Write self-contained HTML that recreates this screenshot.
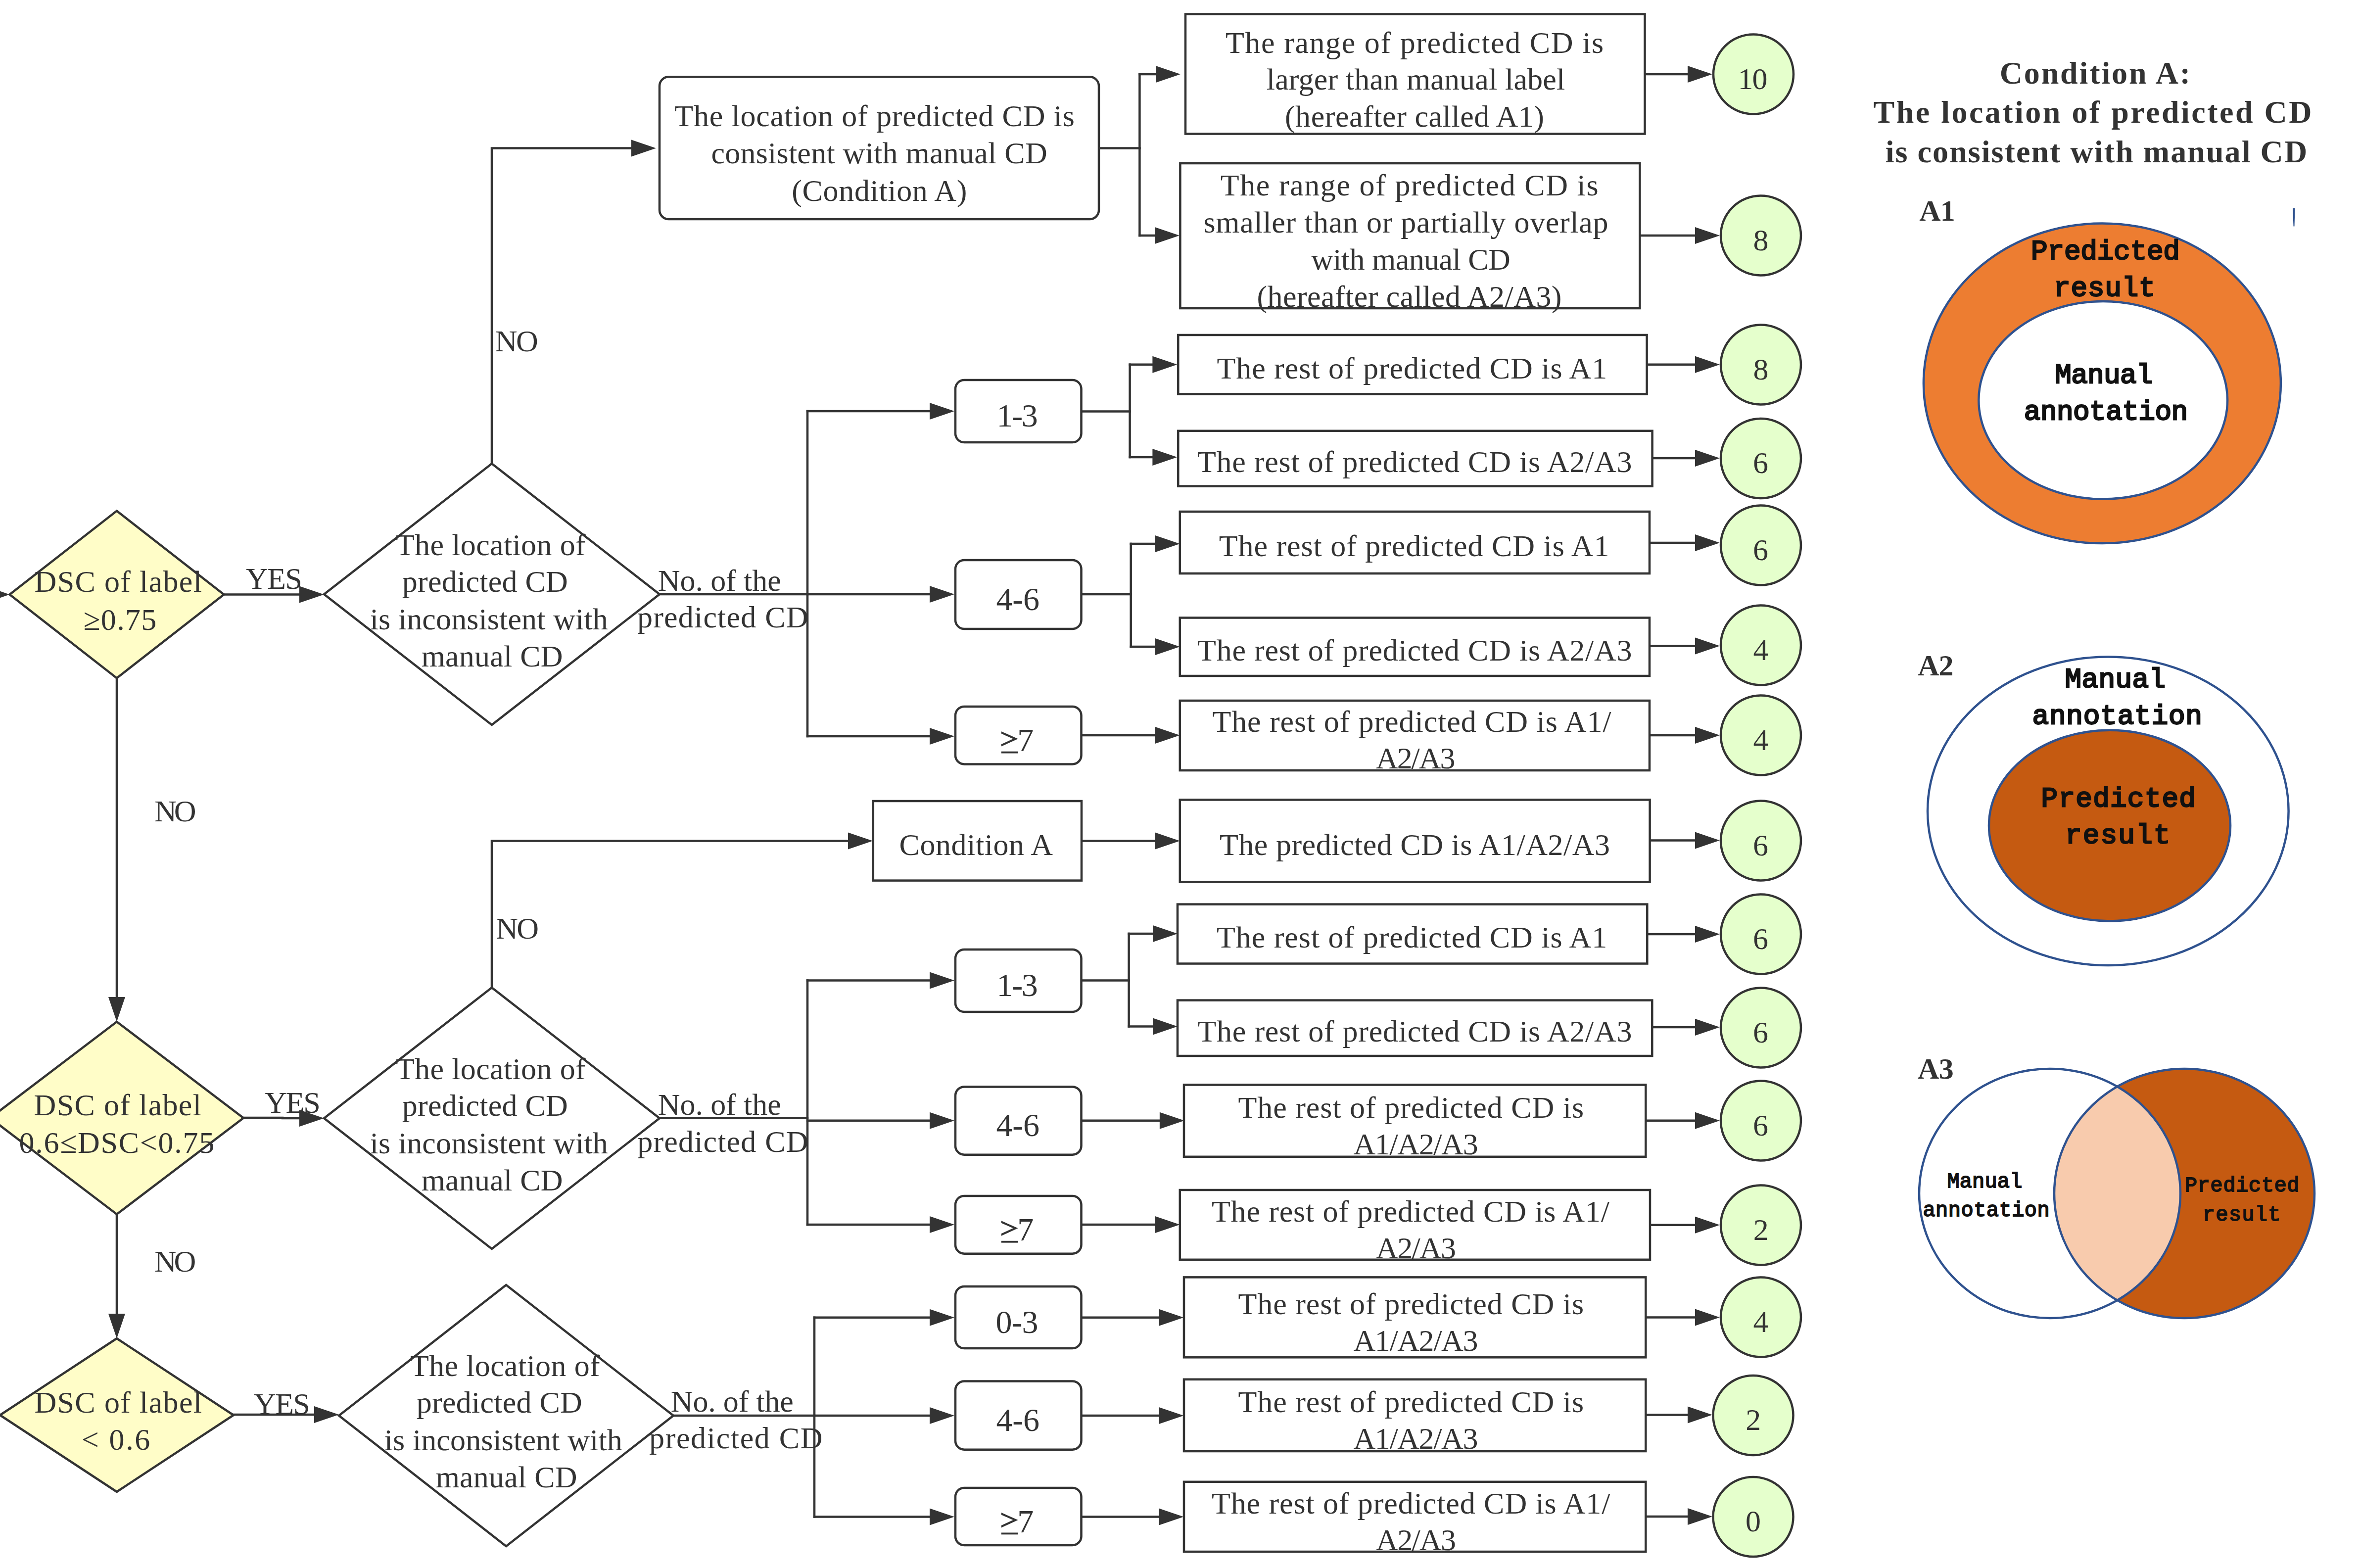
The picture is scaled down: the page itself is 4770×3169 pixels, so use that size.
<!DOCTYPE html>
<html><head><meta charset="utf-8"><style>
html,body{margin:0;padding:0;background:#fff;width:4770px;height:3169px;overflow:hidden}
svg{display:block}
</style></head><body>
<svg width="4770" height="3169" viewBox="0 0 4770 3169">
<rect width="4770" height="3169" fill="#ffffff"/>
<polygon points="236.0,1032.5 452.5,1201.5 236.0,1370.5 19.5,1201.5" fill="#fffdc8" stroke="#333333" stroke-width="4.5"/>
<polygon points="236.0,2065.0 492.0,2259.5 236.0,2454.0 -20.0,2259.5" fill="#fffdc8" stroke="#333333" stroke-width="4.5"/>
<polygon points="236.0,2705.0 472.0,2860.0 236.0,3015.0 0.0,2860.0" fill="#fffdc8" stroke="#333333" stroke-width="4.5"/>
<polygon points="994.0,937.0 1333.0,1201.0 994.0,1465.0 655.0,1201.0" fill="#ffffff" stroke="#333333" stroke-width="4.5"/>
<polygon points="994.0,1996.0 1333.0,2260.0 994.0,2524.0 655.0,2260.0" fill="#ffffff" stroke="#333333" stroke-width="4.5"/>
<polygon points="1023.0,2597.0 1361.0,2861.0 1023.0,3125.0 685.0,2861.0" fill="#ffffff" stroke="#333333" stroke-width="4.5"/>
<polygon points="19.5,1201.5 -30.5,1184.5 -30.5,1218.5" fill="#333333"/>
<polyline points="452.5,1201.5 610.0,1201.5" fill="none" stroke="#333333" stroke-width="4.5" stroke-linejoin="miter" stroke-linecap="square"/>
<polygon points="655.0,1201.5 605.0,1184.5 605.0,1218.5" fill="#333333"/>
<polyline points="236.0,1370.0 236.0,2020.0" fill="none" stroke="#333333" stroke-width="4.5" stroke-linejoin="miter" stroke-linecap="square"/>
<polygon points="236.0,2065.0 219.0,2015.0 253.0,2015.0" fill="#333333"/>
<polyline points="492.0,2259.0 571.0,2259.0 571.0,2260.0 610.0,2260.0" fill="none" stroke="#333333" stroke-width="4.5" stroke-linejoin="miter" stroke-linecap="square"/>
<polygon points="655.0,2260.0 605.0,2243.0 605.0,2277.0" fill="#333333"/>
<polyline points="236.0,2454.6 236.0,2660.0" fill="none" stroke="#333333" stroke-width="4.5" stroke-linejoin="miter" stroke-linecap="square"/>
<polygon points="236.0,2705.0 219.0,2655.0 253.0,2655.0" fill="#333333"/>
<polyline points="472.0,2859.0 640.0,2859.0" fill="none" stroke="#333333" stroke-width="4.5" stroke-linejoin="miter" stroke-linecap="square"/>
<polygon points="685.0,2859.0 635.0,2842.0 635.0,2876.0" fill="#333333"/>
<polyline points="994.0,937.0 994.0,299.5 1281.0,299.5" fill="none" stroke="#333333" stroke-width="4.5" stroke-linejoin="miter" stroke-linecap="square"/>
<polygon points="1326.0,299.5 1276.0,282.5 1276.0,316.5" fill="#333333"/>
<polyline points="1331.6,1201.0 1632.0,1201.0" fill="none" stroke="#333333" stroke-width="4.5" stroke-linejoin="miter" stroke-linecap="square"/>
<polyline points="1632.0,831.0 1632.0,1488.0" fill="none" stroke="#333333" stroke-width="4.5" stroke-linejoin="miter" stroke-linecap="square"/>
<polyline points="1632.0,831.0 1884.0,831.0" fill="none" stroke="#333333" stroke-width="4.5" stroke-linejoin="miter" stroke-linecap="square"/>
<polygon points="1929.0,831.0 1879.0,814.0 1879.0,848.0" fill="#333333"/>
<polyline points="1632.0,1201.0 1884.0,1201.0" fill="none" stroke="#333333" stroke-width="4.5" stroke-linejoin="miter" stroke-linecap="square"/>
<polygon points="1929.0,1201.0 1879.0,1184.0 1879.0,1218.0" fill="#333333"/>
<polyline points="1632.0,1488.0 1884.0,1488.0" fill="none" stroke="#333333" stroke-width="4.5" stroke-linejoin="miter" stroke-linecap="square"/>
<polygon points="1929.0,1488.0 1879.0,1471.0 1879.0,1505.0" fill="#333333"/>
<polyline points="2221.0,299.5 2303.4,299.5" fill="none" stroke="#333333" stroke-width="4.5" stroke-linejoin="miter" stroke-linecap="square"/>
<polyline points="2303.4,149.9 2303.4,476.0" fill="none" stroke="#333333" stroke-width="4.5" stroke-linejoin="miter" stroke-linecap="square"/>
<polyline points="2303.4,149.9 2341.0,149.9" fill="none" stroke="#333333" stroke-width="4.5" stroke-linejoin="miter" stroke-linecap="square"/>
<polygon points="2386.0,149.9 2336.0,132.9 2336.0,166.9" fill="#333333"/>
<polyline points="2303.4,476.0 2339.0,476.0" fill="none" stroke="#333333" stroke-width="4.5" stroke-linejoin="miter" stroke-linecap="square"/>
<polygon points="2384.0,476.0 2334.0,459.0 2334.0,493.0" fill="#333333"/>
<polyline points="3324.5,150.0 3416.0,150.0" fill="none" stroke="#333333" stroke-width="4.5" stroke-linejoin="miter" stroke-linecap="square"/>
<polygon points="3461.0,150.0 3411.0,133.0 3411.0,167.0" fill="#333333"/>
<polyline points="3314.4,476.0 3431.0,476.0" fill="none" stroke="#333333" stroke-width="4.5" stroke-linejoin="miter" stroke-linecap="square"/>
<polygon points="3476.0,476.0 3426.0,459.0 3426.0,493.0" fill="#333333"/>
<polyline points="2187.0,831.5 2283.6,831.5" fill="none" stroke="#333333" stroke-width="4.5" stroke-linejoin="miter" stroke-linecap="square"/>
<polyline points="2283.6,736.8 2283.6,923.9" fill="none" stroke="#333333" stroke-width="4.5" stroke-linejoin="miter" stroke-linecap="square"/>
<polyline points="2283.6,736.8 2334.4,736.8" fill="none" stroke="#333333" stroke-width="4.5" stroke-linejoin="miter" stroke-linecap="square"/>
<polygon points="2379.4,736.8 2329.4,719.8 2329.4,753.8" fill="#333333"/>
<polyline points="2283.6,923.9 2334.4,923.9" fill="none" stroke="#333333" stroke-width="4.5" stroke-linejoin="miter" stroke-linecap="square"/>
<polygon points="2379.4,923.9 2329.4,906.9 2329.4,940.9" fill="#333333"/>
<polyline points="3328.6,736.8 3431.0,736.8" fill="none" stroke="#333333" stroke-width="4.5" stroke-linejoin="miter" stroke-linecap="square"/>
<polygon points="3476.0,736.8 3426.0,719.8 3426.0,753.8" fill="#333333"/>
<polyline points="3339.6,926.0 3431.0,926.0" fill="none" stroke="#333333" stroke-width="4.5" stroke-linejoin="miter" stroke-linecap="square"/>
<polygon points="3476.0,926.0 3426.0,909.0 3426.0,943.0" fill="#333333"/>
<polyline points="2187.0,1201.0 2285.7,1201.0" fill="none" stroke="#333333" stroke-width="4.5" stroke-linejoin="miter" stroke-linecap="square"/>
<polyline points="2285.7,1099.0 2285.7,1307.0" fill="none" stroke="#333333" stroke-width="4.5" stroke-linejoin="miter" stroke-linecap="square"/>
<polyline points="2285.7,1099.0 2339.7,1099.0" fill="none" stroke="#333333" stroke-width="4.5" stroke-linejoin="miter" stroke-linecap="square"/>
<polygon points="2384.7,1099.0 2334.7,1082.0 2334.7,1116.0" fill="#333333"/>
<polyline points="2285.7,1307.0 2339.7,1307.0" fill="none" stroke="#333333" stroke-width="4.5" stroke-linejoin="miter" stroke-linecap="square"/>
<polygon points="2384.7,1307.0 2334.7,1290.0 2334.7,1324.0" fill="#333333"/>
<polyline points="3334.0,1097.0 3431.0,1097.0" fill="none" stroke="#333333" stroke-width="4.5" stroke-linejoin="miter" stroke-linecap="square"/>
<polygon points="3476.0,1097.0 3426.0,1080.0 3426.0,1114.0" fill="#333333"/>
<polyline points="3334.0,1305.5 3431.0,1305.5" fill="none" stroke="#333333" stroke-width="4.5" stroke-linejoin="miter" stroke-linecap="square"/>
<polygon points="3476.0,1305.5 3426.0,1288.5 3426.0,1322.5" fill="#333333"/>
<polyline points="2187.0,1486.0 2339.7,1486.0" fill="none" stroke="#333333" stroke-width="4.5" stroke-linejoin="miter" stroke-linecap="square"/>
<polygon points="2384.7,1486.0 2334.7,1469.0 2334.7,1503.0" fill="#333333"/>
<polyline points="3334.0,1486.0 3431.0,1486.0" fill="none" stroke="#333333" stroke-width="4.5" stroke-linejoin="miter" stroke-linecap="square"/>
<polygon points="3476.0,1486.0 3426.0,1469.0 3426.0,1503.0" fill="#333333"/>
<polyline points="994.0,1997.0 994.0,1699.5 1719.0,1699.5" fill="none" stroke="#333333" stroke-width="4.5" stroke-linejoin="miter" stroke-linecap="square"/>
<polygon points="1764.0,1699.5 1714.0,1682.5 1714.0,1716.5" fill="#333333"/>
<polyline points="2186.0,1699.5 2339.7,1699.5" fill="none" stroke="#333333" stroke-width="4.5" stroke-linejoin="miter" stroke-linecap="square"/>
<polygon points="2384.7,1699.5 2334.7,1682.5 2334.7,1716.5" fill="#333333"/>
<polyline points="3334.6,1698.5 3431.0,1698.5" fill="none" stroke="#333333" stroke-width="4.5" stroke-linejoin="miter" stroke-linecap="square"/>
<polygon points="3476.0,1698.5 3426.0,1681.5 3426.0,1715.5" fill="#333333"/>
<polyline points="1331.6,2259.7 1632.0,2259.7" fill="none" stroke="#333333" stroke-width="4.5" stroke-linejoin="miter" stroke-linecap="square"/>
<polyline points="1632.0,1981.6 1632.0,2475.0" fill="none" stroke="#333333" stroke-width="4.5" stroke-linejoin="miter" stroke-linecap="square"/>
<polyline points="1632.0,1981.6 1884.0,1981.6" fill="none" stroke="#333333" stroke-width="4.5" stroke-linejoin="miter" stroke-linecap="square"/>
<polygon points="1929.0,1981.6 1879.0,1964.6 1879.0,1998.6" fill="#333333"/>
<polyline points="1632.0,2264.8 1884.0,2264.8" fill="none" stroke="#333333" stroke-width="4.5" stroke-linejoin="miter" stroke-linecap="square"/>
<polygon points="1929.0,2264.8 1879.0,2247.8 1879.0,2281.8" fill="#333333"/>
<polyline points="1632.0,2475.0 1884.0,2475.0" fill="none" stroke="#333333" stroke-width="4.5" stroke-linejoin="miter" stroke-linecap="square"/>
<polygon points="1929.0,2475.0 1879.0,2458.0 1879.0,2492.0" fill="#333333"/>
<polyline points="2187.0,1981.6 2281.6,1981.6" fill="none" stroke="#333333" stroke-width="4.5" stroke-linejoin="miter" stroke-linecap="square"/>
<polyline points="2281.6,1887.0 2281.6,2074.5" fill="none" stroke="#333333" stroke-width="4.5" stroke-linejoin="miter" stroke-linecap="square"/>
<polyline points="2281.6,1887.0 2335.0,1887.0" fill="none" stroke="#333333" stroke-width="4.5" stroke-linejoin="miter" stroke-linecap="square"/>
<polygon points="2380.0,1887.0 2330.0,1870.0 2330.0,1904.0" fill="#333333"/>
<polyline points="2281.6,2074.5 2335.0,2074.5" fill="none" stroke="#333333" stroke-width="4.5" stroke-linejoin="miter" stroke-linecap="square"/>
<polygon points="2380.0,2074.5 2330.0,2057.5 2330.0,2091.5" fill="#333333"/>
<polyline points="3329.3,1888.0 3431.0,1888.0" fill="none" stroke="#333333" stroke-width="4.5" stroke-linejoin="miter" stroke-linecap="square"/>
<polygon points="3476.0,1888.0 3426.0,1871.0 3426.0,1905.0" fill="#333333"/>
<polyline points="3339.3,2076.0 3431.0,2076.0" fill="none" stroke="#333333" stroke-width="4.5" stroke-linejoin="miter" stroke-linecap="square"/>
<polygon points="3476.0,2076.0 3426.0,2059.0 3426.0,2093.0" fill="#333333"/>
<polyline points="2187.0,2264.8 2348.9,2264.8" fill="none" stroke="#333333" stroke-width="4.5" stroke-linejoin="miter" stroke-linecap="square"/>
<polygon points="2393.9,2264.8 2343.9,2247.8 2343.9,2281.8" fill="#333333"/>
<polyline points="3326.3,2264.8 3431.0,2264.8" fill="none" stroke="#333333" stroke-width="4.5" stroke-linejoin="miter" stroke-linecap="square"/>
<polygon points="3476.0,2264.8 3426.0,2247.8 3426.0,2281.8" fill="#333333"/>
<polyline points="2187.0,2475.0 2339.7,2475.0" fill="none" stroke="#333333" stroke-width="4.5" stroke-linejoin="miter" stroke-linecap="square"/>
<polygon points="2384.7,2475.0 2334.7,2458.0 2334.7,2492.0" fill="#333333"/>
<polyline points="3335.0,2475.8 3431.0,2475.8" fill="none" stroke="#333333" stroke-width="4.5" stroke-linejoin="miter" stroke-linecap="square"/>
<polygon points="3476.0,2475.8 3426.0,2458.8 3426.0,2492.8" fill="#333333"/>
<polyline points="1361.7,2861.0 1646.0,2861.0" fill="none" stroke="#333333" stroke-width="4.5" stroke-linejoin="miter" stroke-linecap="square"/>
<polyline points="1646.0,2662.7 1646.0,3065.4" fill="none" stroke="#333333" stroke-width="4.5" stroke-linejoin="miter" stroke-linecap="square"/>
<polyline points="1646.0,2662.7 1884.0,2662.7" fill="none" stroke="#333333" stroke-width="4.5" stroke-linejoin="miter" stroke-linecap="square"/>
<polygon points="1929.0,2662.7 1879.0,2645.7 1879.0,2679.7" fill="#333333"/>
<polyline points="1646.0,2861.0 1884.0,2861.0" fill="none" stroke="#333333" stroke-width="4.5" stroke-linejoin="miter" stroke-linecap="square"/>
<polygon points="1929.0,2861.0 1879.0,2844.0 1879.0,2878.0" fill="#333333"/>
<polyline points="1646.0,3065.4 1884.0,3065.4" fill="none" stroke="#333333" stroke-width="4.5" stroke-linejoin="miter" stroke-linecap="square"/>
<polygon points="1929.0,3065.4 1879.0,3048.4 1879.0,3082.4" fill="#333333"/>
<polyline points="2186.4,2662.7 2347.4,2662.7" fill="none" stroke="#333333" stroke-width="4.5" stroke-linejoin="miter" stroke-linecap="square"/>
<polygon points="2392.4,2662.7 2342.4,2645.7 2342.4,2679.7" fill="#333333"/>
<polyline points="2186.4,2861.0 2347.4,2861.0" fill="none" stroke="#333333" stroke-width="4.5" stroke-linejoin="miter" stroke-linecap="square"/>
<polygon points="2392.4,2861.0 2342.4,2844.0 2342.4,2878.0" fill="#333333"/>
<polyline points="2186.4,3065.4 2347.4,3065.4" fill="none" stroke="#333333" stroke-width="4.5" stroke-linejoin="miter" stroke-linecap="square"/>
<polygon points="2392.4,3065.4 2342.4,3048.4 2342.4,3082.4" fill="#333333"/>
<polyline points="3326.3,2662.6 3431.0,2662.6" fill="none" stroke="#333333" stroke-width="4.5" stroke-linejoin="miter" stroke-linecap="square"/>
<polygon points="3476.0,2662.6 3426.0,2645.6 3426.0,2679.6" fill="#333333"/>
<polyline points="3326.3,2859.5 3416.0,2859.5" fill="none" stroke="#333333" stroke-width="4.5" stroke-linejoin="miter" stroke-linecap="square"/>
<polygon points="3461.0,2859.5 3411.0,2842.5 3411.0,2876.5" fill="#333333"/>
<polyline points="3326.3,3065.0 3416.0,3065.0" fill="none" stroke="#333333" stroke-width="4.5" stroke-linejoin="miter" stroke-linecap="square"/>
<polygon points="3461.0,3065.0 3411.0,3048.0 3411.0,3082.0" fill="#333333"/>
<rect x="1333.0" y="155.3" width="888.0" height="287.7" rx="18.5" fill="#ffffff" stroke="#333333" stroke-width="4.5"/>
<rect x="1931.0" y="768.0" width="254.5" height="126.0" rx="18" fill="#ffffff" stroke="#333333" stroke-width="4.5"/>
<rect x="1931.0" y="1132.0" width="254.5" height="139.0" rx="18" fill="#ffffff" stroke="#333333" stroke-width="4.5"/>
<rect x="1931.0" y="1428.0" width="254.5" height="116.4" rx="18" fill="#ffffff" stroke="#333333" stroke-width="4.5"/>
<rect x="1931.0" y="1919.0" width="254.5" height="126.0" rx="18" fill="#ffffff" stroke="#333333" stroke-width="4.5"/>
<rect x="1931.0" y="2196.4" width="254.5" height="137.3" rx="18" fill="#ffffff" stroke="#333333" stroke-width="4.5"/>
<rect x="1931.0" y="2417.0" width="254.5" height="116.7" rx="18" fill="#ffffff" stroke="#333333" stroke-width="4.5"/>
<rect x="1931.0" y="2600.0" width="254.5" height="125.0" rx="18" fill="#ffffff" stroke="#333333" stroke-width="4.5"/>
<rect x="1931.0" y="2791.4" width="254.5" height="138.3" rx="18" fill="#ffffff" stroke="#333333" stroke-width="4.5"/>
<rect x="1931.0" y="3007.0" width="254.5" height="115.9" rx="18" fill="#ffffff" stroke="#333333" stroke-width="4.5"/>
<rect x="1764.8" y="1619.0" width="421.2" height="160.6" rx="0" fill="#ffffff" stroke="#333333" stroke-width="4.5"/>
<rect x="2396.0" y="28.5" width="928.5" height="242.0" rx="0" fill="#ffffff" stroke="#333333" stroke-width="4.5"/>
<rect x="2385.4" y="330.0" width="929.0" height="293.0" rx="0" fill="#ffffff" stroke="#333333" stroke-width="4.5"/>
<rect x="2381.3" y="677.0" width="947.3" height="119.4" rx="0" fill="#ffffff" stroke="#333333" stroke-width="4.5"/>
<rect x="2381.3" y="870.8" width="958.3" height="111.8" rx="0" fill="#ffffff" stroke="#333333" stroke-width="4.5"/>
<rect x="2384.8" y="1034.0" width="949.2" height="125.0" rx="0" fill="#ffffff" stroke="#333333" stroke-width="4.5"/>
<rect x="2384.8" y="1248.5" width="949.2" height="117.5" rx="0" fill="#ffffff" stroke="#333333" stroke-width="4.5"/>
<rect x="2384.8" y="1416.0" width="949.2" height="141.0" rx="0" fill="#ffffff" stroke="#333333" stroke-width="4.5"/>
<rect x="2384.8" y="1616.4" width="949.8" height="166.1" rx="0" fill="#ffffff" stroke="#333333" stroke-width="4.5"/>
<rect x="2380.0" y="1827.6" width="949.3" height="119.9" rx="0" fill="#ffffff" stroke="#333333" stroke-width="4.5"/>
<rect x="2380.0" y="2021.6" width="959.3" height="112.4" rx="0" fill="#ffffff" stroke="#333333" stroke-width="4.5"/>
<rect x="2393.0" y="2192.5" width="933.3" height="145.3" rx="0" fill="#ffffff" stroke="#333333" stroke-width="4.5"/>
<rect x="2384.8" y="2405.0" width="950.2" height="140.8" rx="0" fill="#ffffff" stroke="#333333" stroke-width="4.5"/>
<rect x="2393.0" y="2581.4" width="933.3" height="161.9" rx="0" fill="#ffffff" stroke="#333333" stroke-width="4.5"/>
<rect x="2393.0" y="2787.8" width="933.3" height="145.2" rx="0" fill="#ffffff" stroke="#333333" stroke-width="4.5"/>
<rect x="2393.0" y="2994.8" width="933.3" height="141.2" rx="0" fill="#ffffff" stroke="#333333" stroke-width="4.5"/>
<ellipse cx="3544.0" cy="150.0" rx="81" ry="80.5" fill="#e5ffcc" stroke="#333333" stroke-width="4.5"/>
<text x="3512.6" y="179.5" font-family="Liberation Serif" font-weight="normal" font-size="62" letter-spacing="-2.19" fill="#333333"  xml:space="preserve">10</text>
<ellipse cx="3559.0" cy="476.0" rx="81" ry="80.5" fill="#e5ffcc" stroke="#333333" stroke-width="4.5"/>
<text x="3543.5" y="505.5" font-family="Liberation Serif" font-weight="normal" font-size="62" letter-spacing="0.00" fill="#333333"  xml:space="preserve">8</text>
<ellipse cx="3559.0" cy="737.0" rx="81" ry="80.5" fill="#e5ffcc" stroke="#333333" stroke-width="4.5"/>
<text x="3543.5" y="766.5" font-family="Liberation Serif" font-weight="normal" font-size="62" letter-spacing="0.00" fill="#333333"  xml:space="preserve">8</text>
<ellipse cx="3559.0" cy="926.5" rx="81" ry="80.5" fill="#e5ffcc" stroke="#333333" stroke-width="4.5"/>
<text x="3543.1" y="956.0" font-family="Liberation Serif" font-weight="normal" font-size="62" letter-spacing="0.00" fill="#333333"  xml:space="preserve">6</text>
<ellipse cx="3559.0" cy="1102.0" rx="81" ry="80.5" fill="#e5ffcc" stroke="#333333" stroke-width="4.5"/>
<text x="3543.1" y="1131.5" font-family="Liberation Serif" font-weight="normal" font-size="62" letter-spacing="0.00" fill="#333333"  xml:space="preserve">6</text>
<ellipse cx="3559.0" cy="1304.0" rx="81" ry="80.5" fill="#e5ffcc" stroke="#333333" stroke-width="4.5"/>
<text x="3543.4" y="1333.5" font-family="Liberation Serif" font-weight="normal" font-size="62" letter-spacing="0.00" fill="#333333"  xml:space="preserve">4</text>
<ellipse cx="3559.0" cy="1486.0" rx="81" ry="80.5" fill="#e5ffcc" stroke="#333333" stroke-width="4.5"/>
<text x="3543.4" y="1515.5" font-family="Liberation Serif" font-weight="normal" font-size="62" letter-spacing="0.00" fill="#333333"  xml:space="preserve">4</text>
<ellipse cx="3559.0" cy="1699.0" rx="81" ry="80.5" fill="#e5ffcc" stroke="#333333" stroke-width="4.5"/>
<text x="3543.1" y="1728.5" font-family="Liberation Serif" font-weight="normal" font-size="62" letter-spacing="0.00" fill="#333333"  xml:space="preserve">6</text>
<ellipse cx="3559.0" cy="1888.0" rx="81" ry="80.5" fill="#e5ffcc" stroke="#333333" stroke-width="4.5"/>
<text x="3543.1" y="1917.5" font-family="Liberation Serif" font-weight="normal" font-size="62" letter-spacing="0.00" fill="#333333"  xml:space="preserve">6</text>
<ellipse cx="3559.0" cy="2077.0" rx="81" ry="80.5" fill="#e5ffcc" stroke="#333333" stroke-width="4.5"/>
<text x="3543.1" y="2106.5" font-family="Liberation Serif" font-weight="normal" font-size="62" letter-spacing="0.00" fill="#333333"  xml:space="preserve">6</text>
<ellipse cx="3559.0" cy="2265.0" rx="81" ry="80.5" fill="#e5ffcc" stroke="#333333" stroke-width="4.5"/>
<text x="3543.1" y="2294.5" font-family="Liberation Serif" font-weight="normal" font-size="62" letter-spacing="0.00" fill="#333333"  xml:space="preserve">6</text>
<ellipse cx="3559.0" cy="2476.0" rx="81" ry="80.5" fill="#e5ffcc" stroke="#333333" stroke-width="4.5"/>
<text x="3543.8" y="2505.5" font-family="Liberation Serif" font-weight="normal" font-size="62" letter-spacing="0.00" fill="#333333"  xml:space="preserve">2</text>
<ellipse cx="3559.0" cy="2662.0" rx="81" ry="80.5" fill="#e5ffcc" stroke="#333333" stroke-width="4.5"/>
<text x="3543.4" y="2691.5" font-family="Liberation Serif" font-weight="normal" font-size="62" letter-spacing="0.00" fill="#333333"  xml:space="preserve">4</text>
<ellipse cx="3543.5" cy="2860.5" rx="81" ry="80.5" fill="#e5ffcc" stroke="#333333" stroke-width="4.5"/>
<text x="3528.3" y="2890.0" font-family="Liberation Serif" font-weight="normal" font-size="62" letter-spacing="0.00" fill="#333333"  xml:space="preserve">2</text>
<ellipse cx="3543.5" cy="3065.5" rx="81" ry="80.5" fill="#e5ffcc" stroke="#333333" stroke-width="4.5"/>
<text x="3528.0" y="3095.0" font-family="Liberation Serif" font-weight="normal" font-size="62" letter-spacing="0.00" fill="#333333"  xml:space="preserve">0</text>
<text x="1363.2" y="255.0" font-family="Liberation Serif" font-weight="normal" font-size="62" letter-spacing="0.84" fill="#333333"  xml:space="preserve">The location of predicted CD is</text>
<text x="1437.4" y="330.0" font-family="Liberation Serif" font-weight="normal" font-size="62" letter-spacing="0.25" fill="#333333"  xml:space="preserve">consistent with manual CD</text>
<text x="1600.3" y="405.6" font-family="Liberation Serif" font-weight="normal" font-size="62" letter-spacing="0.65" fill="#333333"  xml:space="preserve">(Condition A)</text>
<text x="2476.9" y="106.8" font-family="Liberation Serif" font-weight="normal" font-size="62" letter-spacing="1.59" fill="#333333"  xml:space="preserve">The range of predicted CD is</text>
<text x="2559.8" y="181.0" font-family="Liberation Serif" font-weight="normal" font-size="62" letter-spacing="0.16" fill="#333333"  xml:space="preserve">larger than manual label</text>
<text x="2596.9" y="256.3" font-family="Liberation Serif" font-weight="normal" font-size="62" letter-spacing="0.56" fill="#333333"  xml:space="preserve">(hereafter called A1)</text>
<text x="2466.8" y="394.5" font-family="Liberation Serif" font-weight="normal" font-size="62" letter-spacing="1.57" fill="#333333"  xml:space="preserve">The range of predicted CD is</text>
<text x="2432.5" y="469.8" font-family="Liberation Serif" font-weight="normal" font-size="62" letter-spacing="0.71" fill="#333333"  xml:space="preserve">smaller than or partially overlap</text>
<text x="2649.9" y="544.6" font-family="Liberation Serif" font-weight="normal" font-size="62" letter-spacing="-0.53" fill="#333333"  xml:space="preserve">with manual CD</text>
<text x="2540.5" y="620.0" font-family="Liberation Serif" font-weight="normal" font-size="62" letter-spacing="0.44" fill="#333333"  xml:space="preserve">(hereafter called A2/A3)</text>
<text x="2459.4" y="765.0" font-family="Liberation Serif" font-weight="normal" font-size="62" letter-spacing="0.96" fill="#333333"  xml:space="preserve">The rest of predicted CD is A1</text>
<text x="2419.9" y="954.0" font-family="Liberation Serif" font-weight="normal" font-size="62" letter-spacing="0.77" fill="#333333"  xml:space="preserve">The rest of predicted CD is A2/A3</text>
<text x="2463.7" y="1123.7" font-family="Liberation Serif" font-weight="normal" font-size="62" letter-spacing="0.96" fill="#333333"  xml:space="preserve">The rest of predicted CD is A1</text>
<text x="2420.1" y="1334.6" font-family="Liberation Serif" font-weight="normal" font-size="62" letter-spacing="0.76" fill="#333333"  xml:space="preserve">The rest of predicted CD is A2/A3</text>
<text x="2450.4" y="1478.7" font-family="Liberation Serif" font-weight="normal" font-size="62" letter-spacing="0.93" fill="#333333"  xml:space="preserve">The rest of predicted CD is A1/</text>
<text x="2781.0" y="1552.6" font-family="Liberation Serif" font-weight="normal" font-size="62" letter-spacing="-2.09" fill="#333333"  xml:space="preserve">A2/A3</text>
<text x="2464.9" y="1728.0" font-family="Liberation Serif" font-weight="normal" font-size="62" letter-spacing="0.53" fill="#333333"  xml:space="preserve">The predicted CD is A1/A2/A3</text>
<text x="2458.9" y="1914.8" font-family="Liberation Serif" font-weight="normal" font-size="62" letter-spacing="0.98" fill="#333333"  xml:space="preserve">The rest of predicted CD is A1</text>
<text x="2420.5" y="2104.7" font-family="Liberation Serif" font-weight="normal" font-size="62" letter-spacing="0.75" fill="#333333"  xml:space="preserve">The rest of predicted CD is A2/A3</text>
<text x="2502.4" y="2259.0" font-family="Liberation Serif" font-weight="normal" font-size="62" letter-spacing="0.98" fill="#333333"  xml:space="preserve">The rest of predicted CD is</text>
<text x="2735.4" y="2333.0" font-family="Liberation Serif" font-weight="normal" font-size="62" letter-spacing="-1.36" fill="#333333"  xml:space="preserve">A1/A2/A3</text>
<text x="2448.9" y="2468.6" font-family="Liberation Serif" font-weight="normal" font-size="62" letter-spacing="0.86" fill="#333333"  xml:space="preserve">The rest of predicted CD is A1/</text>
<text x="2781.1" y="2542.8" font-family="Liberation Serif" font-weight="normal" font-size="62" letter-spacing="-1.69" fill="#333333"  xml:space="preserve">A2/A3</text>
<text x="2502.4" y="2655.5" font-family="Liberation Serif" font-weight="normal" font-size="62" letter-spacing="0.98" fill="#333333"  xml:space="preserve">The rest of predicted CD is</text>
<text x="2735.4" y="2729.7" font-family="Liberation Serif" font-weight="normal" font-size="62" letter-spacing="-1.39" fill="#333333"  xml:space="preserve">A1/A2/A3</text>
<text x="2502.4" y="2854.0" font-family="Liberation Serif" font-weight="normal" font-size="62" letter-spacing="0.98" fill="#333333"  xml:space="preserve">The rest of predicted CD is</text>
<text x="2735.4" y="2928.4" font-family="Liberation Serif" font-weight="normal" font-size="62" letter-spacing="-1.39" fill="#333333"  xml:space="preserve">A1/A2/A3</text>
<text x="2448.9" y="3059.0" font-family="Liberation Serif" font-weight="normal" font-size="62" letter-spacing="0.91" fill="#333333"  xml:space="preserve">The rest of predicted CD is A1/</text>
<text x="2781.1" y="3133.0" font-family="Liberation Serif" font-weight="normal" font-size="62" letter-spacing="-1.69" fill="#333333"  xml:space="preserve">A2/A3</text>
<text x="1817.5" y="1727.6" font-family="Liberation Serif" font-weight="normal" font-size="62" letter-spacing="0.57" fill="#333333"  xml:space="preserve">Condition A</text>
<text x="1000.8" y="710.2" font-family="Liberation Serif" font-weight="normal" font-size="62" letter-spacing="-2.62" fill="#333333"  xml:space="preserve">NO</text>
<text x="496.7" y="1190.3" font-family="Liberation Serif" font-weight="normal" font-size="62" letter-spacing="-1.49" fill="#333333"  xml:space="preserve">YES</text>
<text x="312.2" y="1659.7" font-family="Liberation Serif" font-weight="normal" font-size="62" letter-spacing="-5.22" fill="#333333"  xml:space="preserve">NO</text>
<text x="1002.2" y="1897.0" font-family="Liberation Serif" font-weight="normal" font-size="62" letter-spacing="-2.62" fill="#333333"  xml:space="preserve">NO</text>
<text x="535.0" y="2249.0" font-family="Liberation Serif" font-weight="normal" font-size="62" letter-spacing="-2.19" fill="#333333"  xml:space="preserve">YES</text>
<text x="312.0" y="2570.4" font-family="Liberation Serif" font-weight="normal" font-size="62" letter-spacing="-5.22" fill="#333333"  xml:space="preserve">NO</text>
<text x="512.9" y="2857.6" font-family="Liberation Serif" font-weight="normal" font-size="62" letter-spacing="-1.64" fill="#333333"  xml:space="preserve">YES</text>
<text x="1329.8" y="1194.0" font-family="Liberation Serif" font-weight="normal" font-size="62" letter-spacing="-0.09" fill="#333333"  xml:space="preserve">No. of the</text>
<text x="1288.0" y="1268.0" font-family="Liberation Serif" font-weight="normal" font-size="62" letter-spacing="1.20" fill="#333333"  xml:space="preserve">predicted CD</text>
<text x="1329.8" y="2253.0" font-family="Liberation Serif" font-weight="normal" font-size="62" letter-spacing="-0.09" fill="#333333"  xml:space="preserve">No. of the</text>
<text x="1288.3" y="2328.0" font-family="Liberation Serif" font-weight="normal" font-size="62" letter-spacing="1.17" fill="#333333"  xml:space="preserve">predicted CD</text>
<text x="1355.8" y="2853.4" font-family="Liberation Serif" font-weight="normal" font-size="62" letter-spacing="-0.18" fill="#333333"  xml:space="preserve">No. of the</text>
<text x="1312.0" y="2927.0" font-family="Liberation Serif" font-weight="normal" font-size="62" letter-spacing="1.65" fill="#333333"  xml:space="preserve">predicted CD</text>
<text x="69.6" y="1196.0" font-family="Liberation Serif" font-weight="normal" font-size="62" letter-spacing="1.32" fill="#333333"  xml:space="preserve">DSC of label</text>
<text x="168.5" y="1273.0" font-family="Liberation Serif" font-weight="normal" font-size="62" letter-spacing="1.31" fill="#333333"  xml:space="preserve">≥0.75</text>
<text x="68.6" y="2254.0" font-family="Liberation Serif" font-weight="normal" font-size="62" letter-spacing="1.32" fill="#333333"  xml:space="preserve">DSC of label</text>
<text x="38.4" y="2329.6" font-family="Liberation Serif" font-weight="normal" font-size="62" letter-spacing="1.76" fill="#333333"  xml:space="preserve">0.6≤DSC&lt;0.75</text>
<text x="69.4" y="2855.0" font-family="Liberation Serif" font-weight="normal" font-size="62" letter-spacing="1.35" fill="#333333"  xml:space="preserve">DSC of label</text>
<text x="164.7" y="2930.0" font-family="Liberation Serif" font-weight="normal" font-size="62" letter-spacing="2.67" fill="#333333"  xml:space="preserve">&lt; 0.6</text>
<text x="799.9" y="1122.4" font-family="Liberation Serif" font-weight="normal" font-size="62" letter-spacing="0.36" fill="#333333"  xml:space="preserve">The location of</text>
<text x="812.8" y="1196.4" font-family="Liberation Serif" font-weight="normal" font-size="62" letter-spacing="0.25" fill="#333333"  xml:space="preserve">predicted CD</text>
<text x="747.7" y="1272.0" font-family="Liberation Serif" font-weight="normal" font-size="62" letter-spacing="0.12" fill="#333333"  xml:space="preserve">is inconsistent with</text>
<text x="851.7" y="1347.4" font-family="Liberation Serif" font-weight="normal" font-size="62" letter-spacing="0.21" fill="#333333"  xml:space="preserve">manual CD</text>
<text x="799.9" y="2181.4" font-family="Liberation Serif" font-weight="normal" font-size="62" letter-spacing="0.36" fill="#333333"  xml:space="preserve">The location of</text>
<text x="812.8" y="2255.4" font-family="Liberation Serif" font-weight="normal" font-size="62" letter-spacing="0.25" fill="#333333"  xml:space="preserve">predicted CD</text>
<text x="747.7" y="2331.0" font-family="Liberation Serif" font-weight="normal" font-size="62" letter-spacing="0.12" fill="#333333"  xml:space="preserve">is inconsistent with</text>
<text x="851.7" y="2406.4" font-family="Liberation Serif" font-weight="normal" font-size="62" letter-spacing="0.21" fill="#333333"  xml:space="preserve">manual CD</text>
<text x="828.9" y="2781.4" font-family="Liberation Serif" font-weight="normal" font-size="62" letter-spacing="0.36" fill="#333333"  xml:space="preserve">The location of</text>
<text x="841.8" y="2855.4" font-family="Liberation Serif" font-weight="normal" font-size="62" letter-spacing="0.25" fill="#333333"  xml:space="preserve">predicted CD</text>
<text x="776.7" y="2931.0" font-family="Liberation Serif" font-weight="normal" font-size="62" letter-spacing="0.12" fill="#333333"  xml:space="preserve">is inconsistent with</text>
<text x="880.7" y="3006.4" font-family="Liberation Serif" font-weight="normal" font-size="62" letter-spacing="0.21" fill="#333333"  xml:space="preserve">manual CD</text>
<text x="2014.4" y="862.0" font-family="Liberation Serif" font-weight="normal" font-size="66" letter-spacing="-2.25" fill="#333333"  xml:space="preserve">1-3</text>
<text x="2013.5" y="1232.5" font-family="Liberation Serif" font-weight="normal" font-size="66" letter-spacing="-0.26" fill="#333333"  xml:space="preserve">4-6</text>
<text x="2014.4" y="2013.0" font-family="Liberation Serif" font-weight="normal" font-size="66" letter-spacing="-2.25" fill="#333333"  xml:space="preserve">1-3</text>
<text x="2013.5" y="2296.0" font-family="Liberation Serif" font-weight="normal" font-size="66" letter-spacing="-0.26" fill="#333333"  xml:space="preserve">4-6</text>
<text x="2012.5" y="2693.5" font-family="Liberation Serif" font-weight="normal" font-size="66" letter-spacing="-0.94" fill="#333333"  xml:space="preserve">0-3</text>
<text x="2013.5" y="2891.5" font-family="Liberation Serif" font-weight="normal" font-size="66" letter-spacing="-0.26" fill="#333333"  xml:space="preserve">4-6</text>
<polygon points="2023.8,1478.2 2057.6,1493.2 2023.8,1508.6 2023.8,1504.2 2047.6,1493.2 2023.8,1482.6" fill="#333333"/>
<rect x="2023.8" y="1518.7" width="33.8" height="3.8" fill="#333333"/>
<text x="2056.2" y="1518.2" font-family="Liberation Serif" font-weight="normal" font-size="66" letter-spacing="0.00" fill="#333333"  xml:space="preserve">7</text>
<polygon points="2023.8,2467.3 2057.6,2482.3 2023.8,2497.7 2023.8,2493.3 2047.6,2482.3 2023.8,2471.7" fill="#333333"/>
<rect x="2023.8" y="2507.8" width="33.8" height="3.8" fill="#333333"/>
<text x="2056.2" y="2507.3" font-family="Liberation Serif" font-weight="normal" font-size="66" letter-spacing="0.00" fill="#333333"  xml:space="preserve">7</text>
<polygon points="2023.8,3057.0 2057.6,3072.0 2023.8,3087.4 2023.8,3083.0 2047.6,3072.0 2023.8,3061.4" fill="#333333"/>
<rect x="2023.8" y="3097.5" width="33.8" height="3.8" fill="#333333"/>
<text x="2056.2" y="3097.0" font-family="Liberation Serif" font-weight="normal" font-size="66" letter-spacing="0.00" fill="#333333"  xml:space="preserve">7</text>
<text x="4041.7" y="169.0" font-family="Liberation Serif" font-weight="bold" font-size="64" letter-spacing="2.87" fill="#333333"  xml:space="preserve">Condition A:</text>
<text x="3786.5" y="248.1" font-family="Liberation Serif" font-weight="bold" font-size="64" letter-spacing="3.49" fill="#333333"  xml:space="preserve">The location of predicted CD</text>
<text x="3810.7" y="328.0" font-family="Liberation Serif" font-weight="bold" font-size="64" letter-spacing="2.07" fill="#333333"  xml:space="preserve">is consistent with manual CD</text>
<text x="3879.3" y="445.9" font-family="Liberation Serif" font-weight="bold" font-size="60" letter-spacing="-0.84" fill="#333333"  xml:space="preserve">A1</text>
<text x="3876.2" y="1364.8" font-family="Liberation Serif" font-weight="bold" font-size="60" letter-spacing="-0.97" fill="#333333"  xml:space="preserve">A2</text>
<text x="3876.0" y="2180.0" font-family="Liberation Serif" font-weight="bold" font-size="60" letter-spacing="-0.59" fill="#333333"  xml:space="preserve">A3</text>
<polygon points="4634,420.7 4638.5,420.7 4637.5,457.4 4635.5,457.4" fill="#2f528f"/>
<ellipse cx="4248.9" cy="774.7" rx="361.0" ry="323.3" fill="#ed7d31" stroke="#2f528f" stroke-width="4.5"/>
<ellipse cx="4250.7" cy="808.8" rx="251.4" ry="199.8" fill="#ffffff" stroke="#2f528f" stroke-width="4.5"/>
<text x="4105.1" y="524.0" font-family="Liberation Mono" font-weight="normal" font-size="56" letter-spacing="-0.20" fill="#111111" stroke="#111" stroke-width="2.8" xml:space="preserve">Predicted</text>
<text x="4151.1" y="598.4" font-family="Liberation Mono" font-weight="normal" font-size="56" letter-spacing="0.74" fill="#111111" stroke="#111" stroke-width="2.8" xml:space="preserve">result</text>
<text x="4153.3" y="774.3" font-family="Liberation Mono" font-weight="normal" font-size="56" letter-spacing="-0.70" fill="#111111" stroke="#111" stroke-width="2.8" xml:space="preserve">Manual</text>
<text x="4090.8" y="847.8" font-family="Liberation Mono" font-weight="normal" font-size="56" letter-spacing="-0.53" fill="#111111" stroke="#111" stroke-width="2.8" xml:space="preserve">annotation</text>
<ellipse cx="4260.8" cy="1639.3" rx="364.8" ry="311.8" fill="#ffffff" stroke="#2f528f" stroke-width="4.5"/>
<ellipse cx="4264.0" cy="1668.6" rx="244.0" ry="192.9" fill="#c55a11" stroke="#2f528f" stroke-width="4.5"/>
<text x="4173.5" y="1388.8" font-family="Liberation Mono" font-weight="normal" font-size="56" letter-spacing="0.40" fill="#111111" stroke="#111" stroke-width="2.8" xml:space="preserve">Manual</text>
<text x="4107.5" y="1463.0" font-family="Liberation Mono" font-weight="normal" font-size="56" letter-spacing="0.82" fill="#111111" stroke="#111" stroke-width="2.8" xml:space="preserve">annotation</text>
<text x="4125.6" y="1630.0" font-family="Liberation Mono" font-weight="normal" font-size="56" letter-spacing="1.24" fill="#111111" stroke="#111" stroke-width="2.8" xml:space="preserve">Predicted</text>
<text x="4174.0" y="1703.6" font-family="Liberation Mono" font-weight="normal" font-size="56" letter-spacing="2.16" fill="#111111" stroke="#111" stroke-width="2.8" xml:space="preserve">result</text>
<defs><clipPath id="lc"><ellipse cx="4143" cy="2412" rx="264" ry="252"/></clipPath></defs>
<ellipse cx="4143.0" cy="2412.0" rx="264.0" ry="252.0" fill="#ffffff" stroke="#2f528f" stroke-width="0"/>
<ellipse cx="4415.0" cy="2412.0" rx="263.0" ry="252.0" fill="#c55a11" stroke="#2f528f" stroke-width="0"/>
<ellipse cx="4415" cy="2412" rx="263" ry="252" fill="#f8cbad" clip-path="url(#lc)"/>
<ellipse cx="4143.0" cy="2412.0" rx="264.0" ry="252.0" fill="none" stroke="#2f528f" stroke-width="4.5"/>
<ellipse cx="4415.0" cy="2412.0" rx="263.0" ry="252.0" fill="none" stroke="#2f528f" stroke-width="4.5"/>
<text x="3935.4" y="2399.5" font-family="Liberation Mono" font-weight="normal" font-size="42" letter-spacing="0.15" fill="#111111" stroke="#111" stroke-width="1.9" xml:space="preserve">Manual</text>
<text x="3886.4" y="2457.9" font-family="Liberation Mono" font-weight="normal" font-size="42" letter-spacing="0.48" fill="#111111" stroke="#111" stroke-width="1.9" xml:space="preserve">annotation</text>
<text x="4415.7" y="2407.7" font-family="Liberation Mono" font-weight="normal" font-size="42" letter-spacing="0.62" fill="#111111" stroke="#111" stroke-width="1.9" xml:space="preserve">Predicted</text>
<text x="4451.7" y="2466.5" font-family="Liberation Mono" font-weight="normal" font-size="42" letter-spacing="1.28" fill="#111111" stroke="#111" stroke-width="1.9" xml:space="preserve">result</text>
</svg></body></html>
